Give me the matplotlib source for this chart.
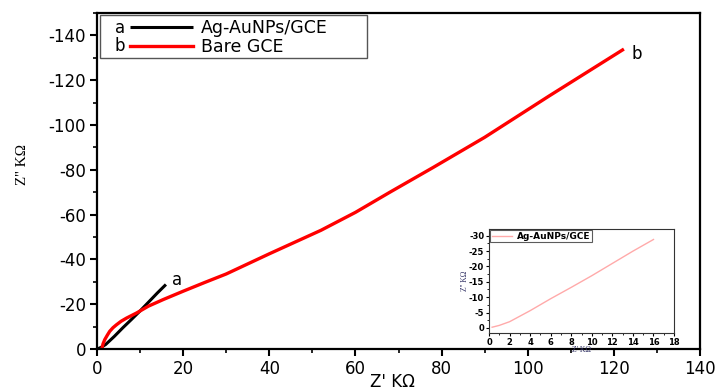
import matplotlib
matplotlib.use("Agg")
import matplotlib.pyplot as plt
from matplotlib.ticker import MultipleLocator
from matplotlib.patches import Rectangle

# ---- data ----
bare_x = [1.1, 1.4, 1.8, 2.4, 2.95, 3.7, 4.5, 5.6, 6.85, 9.2, 11.9, 15.4, 20, 25,
          30, 40, 52, 60, 68, 78, 90, 105, 122]
bare_y = [0, -2.3, -4.2, -6.2, -7.9, -9.5, -10.8, -12.4, -13.8, -16.1, -19.1, -22.1, -25.8, -29.7,
          -33.5, -42.5, -53.0, -61.0, -70.0, -81.0, -94.5, -113.0, -133.5]

ag_x = [0.3, 1.0, 2.0, 3.0, 4.0, 6.0, 8.0, 10.0, 12.0, 14.0, 16.0]
ag_y = [-0.2, -0.8, -2.0, -3.8, -5.6, -9.5, -13.2, -17.0, -21.0, -25.0, -28.8]

main_xticks = [0, 20, 40, 60, 80, 100, 120, 140]
main_yticks = [0, -20, -40, -60, -80, -100, -120, -140]
inset_xticks = [0, 2, 4, 6, 8, 10, 12, 14, 16, 18]
inset_yticks = [0, -5, -10, -15, -20, -25, -30]

label_a = "Ag-AuNPs/GCE"
label_b = "Bare GCE"

plt.rcParams['font.family'] = ['DejaVu Sans']
plt.rcParams['axes.unicode_minus'] = False

fig = plt.figure(figsize=(7.16, 3.9), dpi=100)
ax = fig.add_axes([0.1355, 0.1051, 0.8422, 0.8616])

ax.plot(ag_x, ag_y, color='black', lw=2.2, label=label_a, solid_capstyle='butt')
ax.plot(bare_x, bare_y, color='#ff0000', lw=2.4, label=label_b)

ax.set_xlim(0, 140)
ax.set_ylim(0, -150)
ax.set_xticks(main_xticks)
ax.set_yticks(main_yticks)
ax.xaxis.set_minor_locator(MultipleLocator(10))
ax.yaxis.set_minor_locator(MultipleLocator(10))
ax.tick_params(which='major', direction='out', length=5, width=1.5, labelsize=12, pad=3)
ax.tick_params(which='minor', direction='out', length=3, width=1.2)
for s in ax.spines.values():
    s.set_linewidth(1.6)

ax.set_xlabel("Z' K\u03a9", fontsize=12)
ax.xaxis.set_label_coords(0.49, -0.072)
ax.set_ylabel("Z'' K\u03a9", fontsize=11, family=['Liberation Serif'])
ax.yaxis.set_label_coords(-0.112, 0.55)

ax.text(17.5, -31, "a", fontsize=12, ha='left', va='center')
ax.text(124, -131.5, "b", fontsize=12, ha='left', va='center')

# legend (frameless, with a rectangle frame and a/b prefixes)
leg = ax.legend(loc='upper left', bbox_to_anchor=(0.045, 1.0), frameon=False,
                fontsize=12.5, handlelength=3.6, handletextpad=0.45,
                labelspacing=0.05, borderaxespad=0.1, borderpad=0.25)
ax.add_patch(Rectangle((0.005, 0.866), 0.443, 0.128, transform=ax.transAxes,
                       fill=False, edgecolor='#555555', lw=1.0, zorder=5))
ax.text(0.038, 0.955, "a", transform=ax.transAxes, fontsize=12, ha='center', va='center')
ax.text(0.038, 0.902, "b", transform=ax.transAxes, fontsize=12, ha='center', va='center')

# ---- inset ----
ins = fig.add_axes([0.683, 0.146, 0.2584, 0.2667])
ins.plot(ag_x, ag_y, color='#ffaaaa', lw=1.0, label=label_a)
ins.set_xlim(0, 18)
ins.set_ylim(1.7, -32.2)
ins.set_xticks(inset_xticks)
ins.set_yticks(inset_yticks)
ins.xaxis.set_minor_locator(MultipleLocator(1))
ins.yaxis.set_minor_locator(MultipleLocator(2.5))
ins.tick_params(which='major', direction='out', length=2.5, width=0.8, labelsize=6, pad=1)
ins.tick_params(which='minor', direction='out', length=1.5, width=0.6)
for t in ins.get_xticklabels() + ins.get_yticklabels():
    t.set_fontweight('bold')
for s in ins.spines.values():
    s.set_linewidth(0.8)
    s.set_color('#333333')
ins.set_xlabel("Z' K\u03a9", fontsize=5.5, color='#333366', labelpad=-1, family=['Liberation Serif'])
ins.set_ylabel("Z'' K\u03a9", fontsize=5.5, color='#333366', labelpad=0, family=['Liberation Serif'])
il = ins.legend(loc='upper left', frameon=True, fancybox=False,
                edgecolor='#333333', handlelength=2.2, borderpad=0.15,
                borderaxespad=0.15, handletextpad=0.6,
                prop={'weight': 'bold', 'size': 6.5})
il.get_frame().set_linewidth(0.8)

fig.savefig("out.png", dpi=100)
